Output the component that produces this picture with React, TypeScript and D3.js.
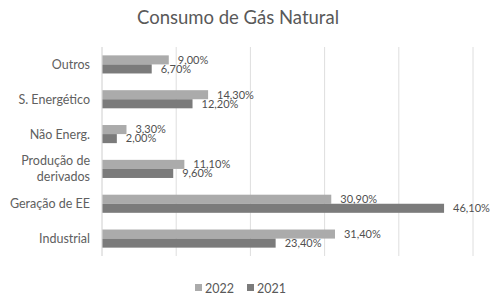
import React from "react";
import * as d3 from "d3";

const categories = ["Outros", "S. Energético", "Não Energ.", "Produção de derivados", "Geração de EE", "Industrial"];
const categoryLines = [["Outros"], ["S. Energético"], ["Não Energ."], ["Produção de", "derivados"], ["Geração de EE"], ["Industrial"]];
const series2022 = [9.0, 14.3, 3.3, 11.1, 30.9, 31.4];
const series2021 = [6.7, 12.2, 2.0, 9.6, 46.1, 23.4];
const seriesNames = ["2022", "2021"];
const xTicks = [0, 10, 20, 30, 40, 50];
const title = "Consumo de Gás Natural";

const W = 497;
const H = 301;
const colors = ["#ababab", "#7b7b7b"];
const font = "Lato, 'Open Sans', sans-serif";

function fmt(v: number) {
  return v.toFixed(2).replace(".", ",") + "%";
}

export default function App() {
  const x = d3.scaleLinear().domain([0, 50]).range([102, 473]);
  const y = d3.scaleBand().domain(categories).range([47, 256]).paddingInner(0.48).paddingOuter(0.24);
  const inner = d3.scaleBand().domain(seriesNames).range([0, y.bandwidth()]);
  const data = [series2022, series2021];

  return (
    <svg width={W} height={H} style={{ position: "absolute", left: 0, top: 0, background: "#fff" }} fontFamily={font}>
      <rect x={0} y={0} width={W} height={H} fill="#fff" />
      <text x={238} y={24} textAnchor="middle" fontSize={18.5} fill="#595959">{title}</text>
      {xTicks.map((t) => (
        <line key={t} x1={x(t)} x2={x(t)} y1={47} y2={256} stroke="#dedede" strokeWidth={1} />
      ))}
      {categories.map((c, i) => (
        <g key={c}>
          {data.map((s, k) => {
            const yy = (y(c) as number) + (inner(seriesNames[k]) as number);
            return (
              <g key={k}>
                <rect x={x(0)} y={yy} width={x(s[i]) - x(0)} height={inner.bandwidth()} fill={colors[k]} />
                <text x={x(s[i]) + 9} y={yy + inner.bandwidth() / 2 + 1} dominantBaseline="middle" fontSize={11} fill="#505050">{fmt(s[i])}</text>
              </g>
            );
          })}
          <text x={90} textAnchor="end" fontSize={12.5} fill="#606060">
            {categoryLines[i].map((ln, j) => (
              <tspan key={j} x={90} y={(y(c) as number) + y.bandwidth() / 2 + 4.5 - (categoryLines[i].length - 1) * 8 + j * 16}>{ln}</tspan>
            ))}
          </text>
        </g>
      ))}
      <line x1={x(0)} x2={x(0)} y1={47} y2={256} stroke="#dedede" />
      {seriesNames.map((n, k) => (
        <g key={n} transform={`translate(${195 + k * 52},283)`}>
          <rect x={0} y={1} width={7} height={7} fill={colors[k]} />
          <text x={10} y={9.5} fontSize={12.5} fill="#595959">{n}</text>
        </g>
      ))}
    </svg>
  );
}
